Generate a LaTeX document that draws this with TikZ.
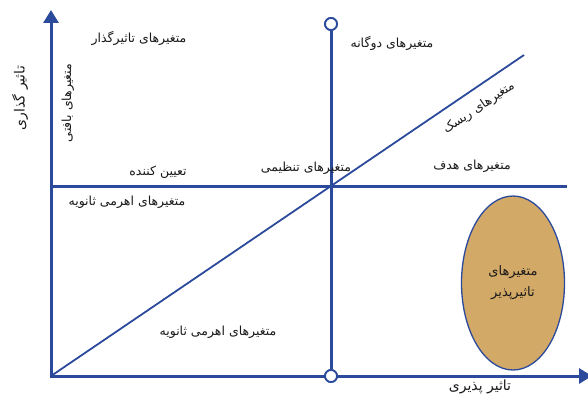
\documentclass[tikz,border=0pt]{standalone}
\usepackage{fontspec}
\newfontfamily\fafont[Script=Arabic]{DejaVu Sans}
\TeXXeTstate=1
\usetikzlibrary{arrows.meta,shapes.geometric}
\definecolor{axisblue}{HTML}{2B4A9B}
\definecolor{ellfill}{HTML}{D2A966}
\newcommand{\fatxt}[1]{\beginR #1\endR}
\begin{document}
\begin{tikzpicture}[x=1pt,y=-1pt,
  lbl/.style={font=\fafont\fontsize{12.5}{15}\selectfont, inner sep=0pt, text=black!90},
  axislbl/.style={lbl, font=\fafont\fontsize{14}{17}\selectfont},
  thickline/.style={draw=axisblue, line width=3pt},
  thinline/.style={draw=axisblue, line width=1.8pt},
  axisarrow/.style={thickline, -{Triangle[length=13pt,width=15pt]}},
  circ/.style={circle, draw=axisblue, fill=white, line width=1.8pt, minimum size=12pt, inner sep=0pt},
  blob/.style={ellipse, draw=axisblue, fill=ellfill, line width=1.3pt, minimum width=103pt, minimum height=174pt, inner sep=0pt, align=center, font=\fafont\fontsize{13}{21}\selectfont, text=black!90}]
\useasboundingbox (0,0) rectangle (588,396);
\coordinate (O) at (51,376);
\coordinate (ytip) at (51,10);
\coordinate (xtip) at (592,376);
\coordinate (hl) at (51,186);
\coordinate (hr) at (567,186);
\coordinate (dend) at (524,55);
\node[circ] (ctop) at (331,24) {};
\node[circ] (cbot) at (331,376) {};
% lines
\draw[thickline] (hl) -- (hr);
\draw[thickline] (ctop) -- (cbot);
\draw[thinline] (O) -- (dend);
\draw[axisarrow] ([yshift=-1.5pt]O) -- (ytip);
\draw[axisarrow] ([xshift=-1.5pt]O) -- (xtip);
\node[circ] at (ctop) {};
\node[circ] at (cbot) {};
% ellipse
\node[blob] (ell) at (513,283) {\fatxt{متغیرهای}\\\fatxt{تاثیرپذیر}};
% labels
\node[lbl] (l1) at (139,38) {\fatxt{متغیرهای تاثیرگذار}};
\node[axislbl, rotate=90] (l2) at (20,98) {\fatxt{تاثیر گذاری}};
\node[lbl, rotate=90] (l3) at (68,103) {\fatxt{متغیرهای بافتی}};
\node[lbl] (l4) at (158,172) {\fatxt{تعیین کننده}};
\node[lbl] (l5) at (392,43) {\fatxt{متغیرهای دوگانه}};
\node[lbl] (l6) at (306,168) {\fatxt{متغیرهای تنظیمی}};
\node[lbl, rotate=34] (l7) at (479,108) {\fatxt{متغیرهای ریسک}};
\node[lbl] (l8) at (472,166) {\fatxt{متغیرهای هدف}};
\node[lbl] (l9) at (127,202) {\fatxt{متغیرهای اهرمی ثانویه}};
\node[lbl] (l10) at (218,332) {\fatxt{متغیرهای اهرمی ثانویه}};
\node[axislbl] (l11) at (480,387) {\fatxt{تاثیر پذیری}};
\end{tikzpicture}
\end{document}
